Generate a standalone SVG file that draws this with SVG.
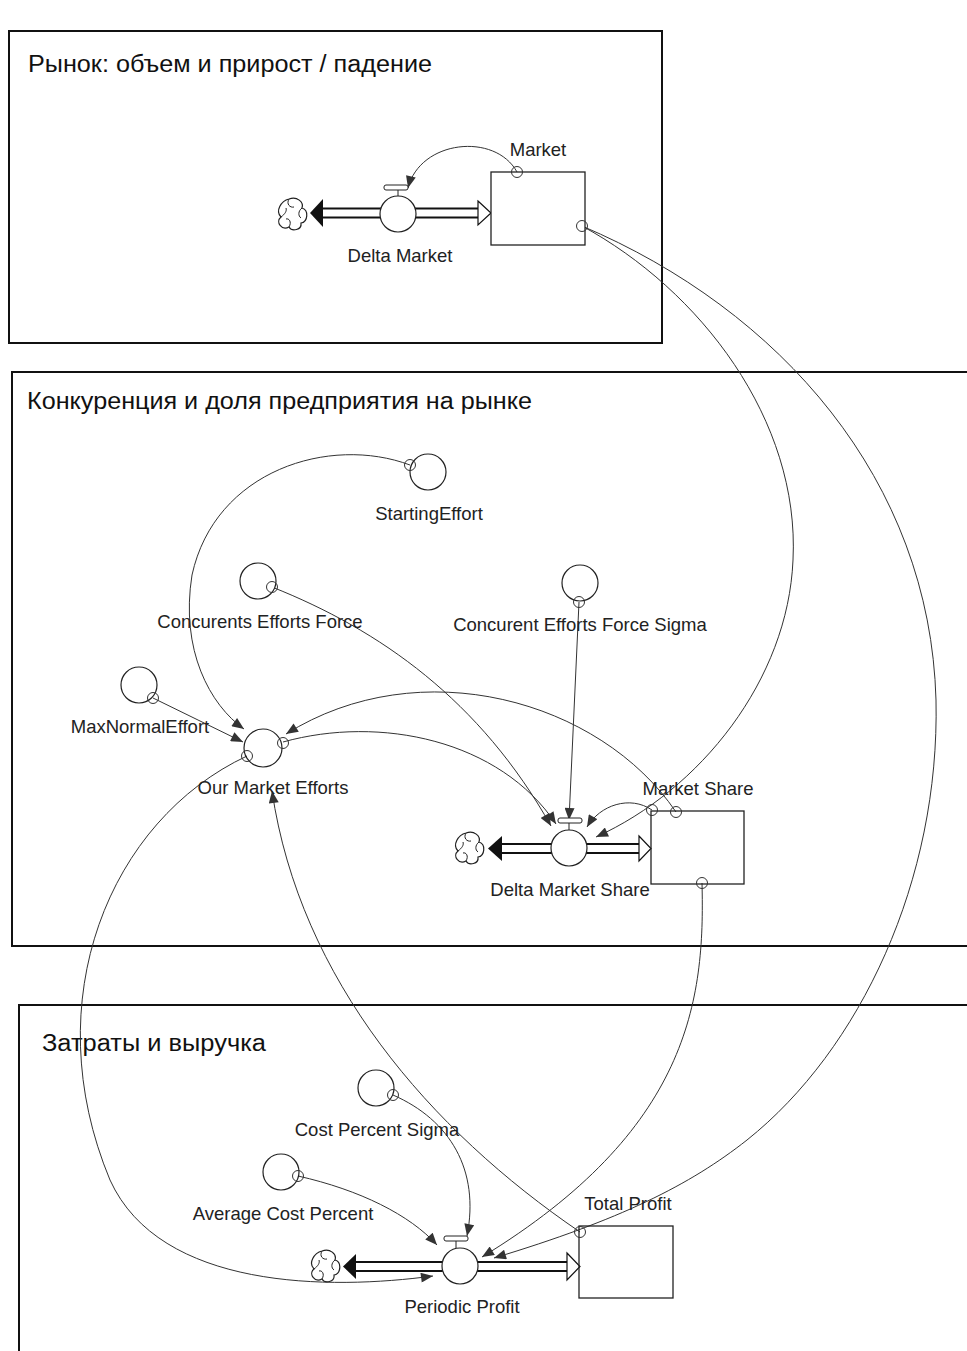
<svg xmlns="http://www.w3.org/2000/svg" xmlns:xlink="http://www.w3.org/1999/xlink" width="967" height="1351" viewBox="0 0 967 1351">
<style>
.sec{fill:none;stroke:#111;stroke-width:2}
.title{font-family:"Liberation Sans",Arial,sans-serif;font-size:23px;fill:#111}
.lbl{font-family:"Liberation Sans",Arial,sans-serif;font-size:18.5px;fill:#222;text-anchor:middle}
.conv{fill:#fff;stroke:#222;stroke-width:1.2}
.stock{fill:#fff;stroke:#222;stroke-width:1.3}
.link{fill:none;stroke:#333;stroke-width:1;marker-end:url(#arr)}
.dot{fill:none;stroke:#333;stroke-width:1}
.pipeo{stroke:#111;stroke-width:11}
.pipei{stroke:#fff;stroke-width:7}
.harrow{fill:#fff;stroke:#111;stroke-width:1.2}
.farrow{fill:#111}
.cloud{fill:#fff;stroke:#222;stroke-width:1.2}
</style>
<defs>
<marker id="arr" viewBox="0 0 12 10" refX="12" refY="5" markerWidth="13" markerHeight="10" markerUnits="userSpaceOnUse" orient="auto">
<path d="M0,0 L12,5 L0,10 Z" fill="#333"/>
</marker>
<g id="cloudshape">
<path class="cloud" d="M -3,-15 C 5,-18 12,-12 10,-6 C 17,-4 16,8 9,9 C 10,16 0,18 -3,13 C -10,17 -17,8 -11,3 C -17,-3 -11,-13 -3,-15 Z"/>
<path fill="none" stroke="#222" stroke-width="1" d="M -3,-15 C -6,-10 -2,-6 2,-7 M 10,-6 C 6,-3 6,2 9,4 M -3,13 C 0,8 -3,4 -6,5 M -11,3 C -7,0 -5,-3 -6,-6"/>
</g>
</defs>
<rect width="967" height="1351" fill="#fff"/>

<g id="sections">
<rect class="sec" x="9" y="31" width="653" height="312"/>
<text class="title" x="28" y="72" textLength="404" lengthAdjust="spacingAndGlyphs">Рынок: объем и прирост / падение</text>
<rect class="sec" x="12" y="372" width="965" height="574"/>
<text class="title" x="27" y="409" textLength="505" lengthAdjust="spacingAndGlyphs">Конкуренция и доля предприятия на рынке</text>
<rect class="sec" x="19" y="1005" width="960" height="360"/>
<text class="title" x="42" y="1051" textLength="224" lengthAdjust="spacingAndGlyphs">Затраты и выручка</text>
</g>

<g id="flows">
<g id="flow-delta-market">
<line class="pipeo" x1="322" y1="213" x2="479" y2="213"/>
<line class="pipei" x1="320" y1="213" x2="481" y2="213"/>
<polygon class="farrow" points="323,199 310,213 323,227"/>
<polygon class="harrow" points="478,201 491,213 478,225"/>
<use xlink:href="#cloudshape" x="292" y="214"/>
</g>
<g id="flow-delta-market-share">
<line class="pipeo" x1="501" y1="848.5" x2="640" y2="848.5"/>
<line class="pipei" x1="499" y1="848.5" x2="642" y2="848.5"/>
<polygon class="farrow" points="502,836 488,848.5 502,861"/>
<polygon class="harrow" points="639,836 651,848.5 639,861"/>
<use xlink:href="#cloudshape" x="469" y="848"/>
</g>
<g id="flow-periodic-profit">
<line class="pipeo" x1="355" y1="1266.5" x2="568" y2="1266.5"/>
<line class="pipei" x1="353" y1="1266.5" x2="570" y2="1266.5"/>
<polygon class="farrow" points="356,1254 343,1266.5 356,1279"/>
<polygon class="harrow" points="567,1253 580,1266.5 567,1280"/>
<use xlink:href="#cloudshape" x="325" y="1266"/>
</g>
</g>

<g id="connectors">
<path class="link" d="M517,172 C 495,132 420,140 408,188"/>
<path class="link" d="M582,226 C 700,290 800,420 793,560 C 788,680 700,790 596,837"/>
<path class="link" d="M582,226 C 780,310 930,480 936,700 C 940,880 860,1050 747,1140 C 690,1185 620,1220 494,1258"/>
<path class="link" d="M702,883 C 705,1000 690,1130 482,1257"/>
<path class="link" d="M580,1232 C 430,1130 300,980 272,791"/>
<path class="link" d="M247,756 C 110,820 35,1000 110,1180 C 160,1290 330,1290 433,1276"/>
<path class="link" d="M410,465 C 330,435 215,470 192,575 C 180,650 210,705 244,729"/>
<path class="link" d="M272,587 C 380,630 480,700 551,826"/>
<path class="link" d="M579,602 L 569,820"/>
<path class="link" d="M153,698 L 243,742"/>
<path class="link" d="M283,742 C 380,715 500,740 556,824"/>
<path class="link" d="M676,812 C 600,700 420,650 286,734"/>
<path class="link" d="M652,810 C 630,795 600,805 587,827"/>
<path class="link" d="M393,1095 C 450,1120 480,1170 467,1236"/>
<path class="link" d="M298,1176 C 360,1190 410,1215 437,1245"/>
</g>

<g id="node-market">
<rect class="stock" x="491" y="172" width="94" height="73"/>
<circle class="dot" cx="517" cy="172" r="5.5"/>
<circle class="dot" cx="582" cy="226" r="5.5"/>
<text class="lbl" x="538" y="156">Market</text>
</g>
<g id="node-delta-market">
<rect x="384" y="185" width="24" height="5" rx="2" fill="#fff" stroke="#222" stroke-width="1"/>
<line x1="398" y1="190" x2="398" y2="197" stroke="#222" stroke-width="1"/>
<circle class="conv" cx="398" cy="214" r="18"/>
<text class="lbl" x="400" y="262">Delta Market</text>
</g>

<g id="node-starting-effort">
<circle class="conv" cx="428" cy="472" r="18"/>
<circle class="dot" cx="410" cy="465" r="5.5"/>
<text class="lbl" x="429" y="520">StartingEffort</text>
</g>
<g id="node-concurents-efforts-force">
<circle class="conv" cx="258" cy="581" r="18"/>
<circle class="dot" cx="272" cy="587" r="5.5"/>
<text class="lbl" x="260" y="628">Concurents Efforts Force</text>
</g>
<g id="node-concurent-efforts-force-sigma">
<circle class="conv" cx="580" cy="583" r="18"/>
<circle class="dot" cx="579" cy="602" r="5.5"/>
<text class="lbl" x="580" y="631">Concurent Efforts Force Sigma</text>
</g>
<g id="node-max-normal-effort">
<circle class="conv" cx="139" cy="685" r="18"/>
<circle class="dot" cx="153" cy="698" r="5.5"/>
<text class="lbl" x="140" y="733">MaxNormalEffort</text>
</g>
<g id="node-our-market-efforts">
<circle class="conv" cx="263" cy="748" r="19" fill-opacity="0"/>
<circle class="dot" cx="283" cy="743" r="5.5"/>
<circle class="dot" cx="247" cy="756" r="5.5"/>
<text class="lbl" x="273" y="794">Our Market Efforts</text>
</g>
<g id="node-market-share">
<rect class="stock" x="651" y="811" width="93" height="73" fill-opacity="0"/>
<circle class="dot" cx="652" cy="810" r="5.5"/>
<circle class="dot" cx="676" cy="812" r="5.5"/>
<circle class="dot" cx="702" cy="883" r="5.5"/>
<text class="lbl" x="698" y="795">Market Share</text>
</g>
<g id="node-delta-market-share">
<rect x="558" y="818" width="24" height="5" rx="2" fill="#fff" stroke="#222" stroke-width="1"/>
<line x1="569" y1="823" x2="569" y2="830" stroke="#222" stroke-width="1"/>
<circle class="conv" cx="569" cy="848" r="18"/>
<text class="lbl" x="570" y="896">Delta Market Share</text>
</g>

<g id="node-cost-percent-sigma">
<circle class="conv" cx="376" cy="1088" r="18"/>
<circle class="dot" cx="393" cy="1095" r="5.5"/>
<text class="lbl" x="377" y="1136">Cost Percent Sigma</text>
</g>
<g id="node-average-cost-percent">
<circle class="conv" cx="281" cy="1172" r="18"/>
<circle class="dot" cx="298" cy="1176" r="5.5"/>
<text class="lbl" x="283" y="1220">Average Cost Percent</text>
</g>
<g id="node-total-profit">
<rect class="stock" x="579" y="1226" width="94" height="72" fill-opacity="0"/>
<circle class="dot" cx="580" cy="1232" r="5.5"/>
<text class="lbl" x="628" y="1210">Total Profit</text>
</g>
<g id="node-periodic-profit">
<rect x="444" y="1236" width="24" height="5" rx="2" fill="#fff" stroke="#222" stroke-width="1"/>
<line x1="456" y1="1241" x2="456" y2="1248" stroke="#222" stroke-width="1"/>
<circle class="conv" cx="460" cy="1266" r="18"/>
<text class="lbl" x="462" y="1313">Periodic Profit</text>
</g>
</svg>
